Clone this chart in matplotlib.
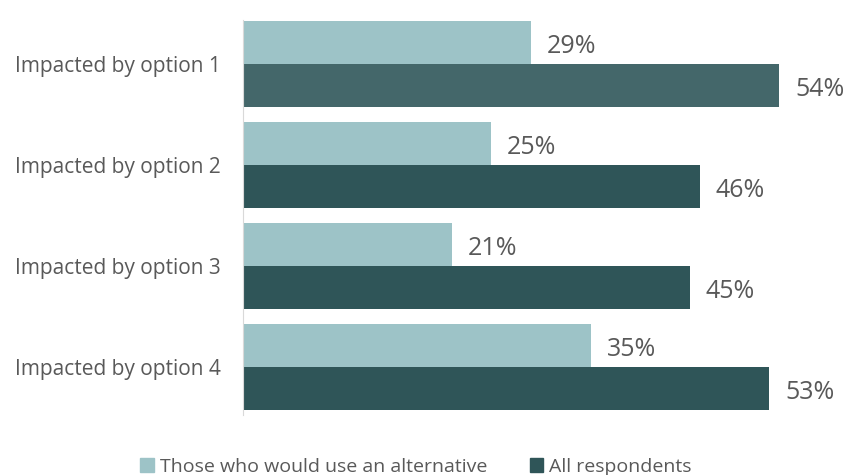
import numpy as np
import matplotlib
matplotlib.use("Agg")
import matplotlib.pyplot as plt
from matplotlib.patches import Patch

categories = ["Impacted by option 1", "Impacted by option 2",
              "Impacted by option 3", "Impacted by option 4"]
alternative = [29, 25, 21, 35]
all_resp = [54, 46, 45, 53]
series_names = ["Those who would use an alternative", "All respondents"]

LIGHT = "#9dc3c7"
DARK = "#2f5558"
DARK_HI = "#44676a"
TXT = "#595959"

plt.rcParams["font.family"] = ["Open Sans", "DejaVu Sans"]

fig = plt.figure(figsize=(8.59, 4.75), dpi=100)
ax = fig.add_axes([243 / 859, 1 - 415 / 475, (839 - 243) / 859, (415 - 20) / 475])

y = np.arange(len(categories))
h = 0.425
dark_cols = [DARK_HI] + [DARK] * (len(categories) - 1)
b1 = ax.barh(y - h / 2, alternative, height=h, color=LIGHT)
b2 = ax.barh(y + h / 2, all_resp, height=h, color=dark_cols)

# value labels just past the end of each bar
for bars, vals in ((b1, alternative), (b2, all_resp)):
    for r, v in zip(bars, vals):
        ax.text(r.get_width() + 1.6, r.get_y() + r.get_height() / 2 + 0.04,
                f"{v}%", va="center", ha="left", fontsize=18, color=TXT)

ax.set_xlim(0, 60)
ax.set_ylim(3 + 48 / 101, -44 / 101)
ax.set_yticks(y)
ax.set_yticklabels(categories, fontsize=15, color=TXT)
ax.tick_params(axis="y", length=0, pad=16)
ax.set_xticks([])
for s in ("top", "right", "bottom"):
    ax.spines[s].set_visible(False)
ax.spines["left"].set_color("#d9d9d9")

handles = [Patch(color=LIGHT), Patch(color=DARK)]
fig.legend(handles, series_names, loc="center", bbox_to_anchor=(416 / 859, 1 - 467 / 475),
           ncol=2, frameon=False, fontsize=14, handlelength=0.7, handleheight=0.7,
           handletextpad=0.3, columnspacing=2.2, labelcolor=TXT)

fig.savefig("out.png", dpi=100)
